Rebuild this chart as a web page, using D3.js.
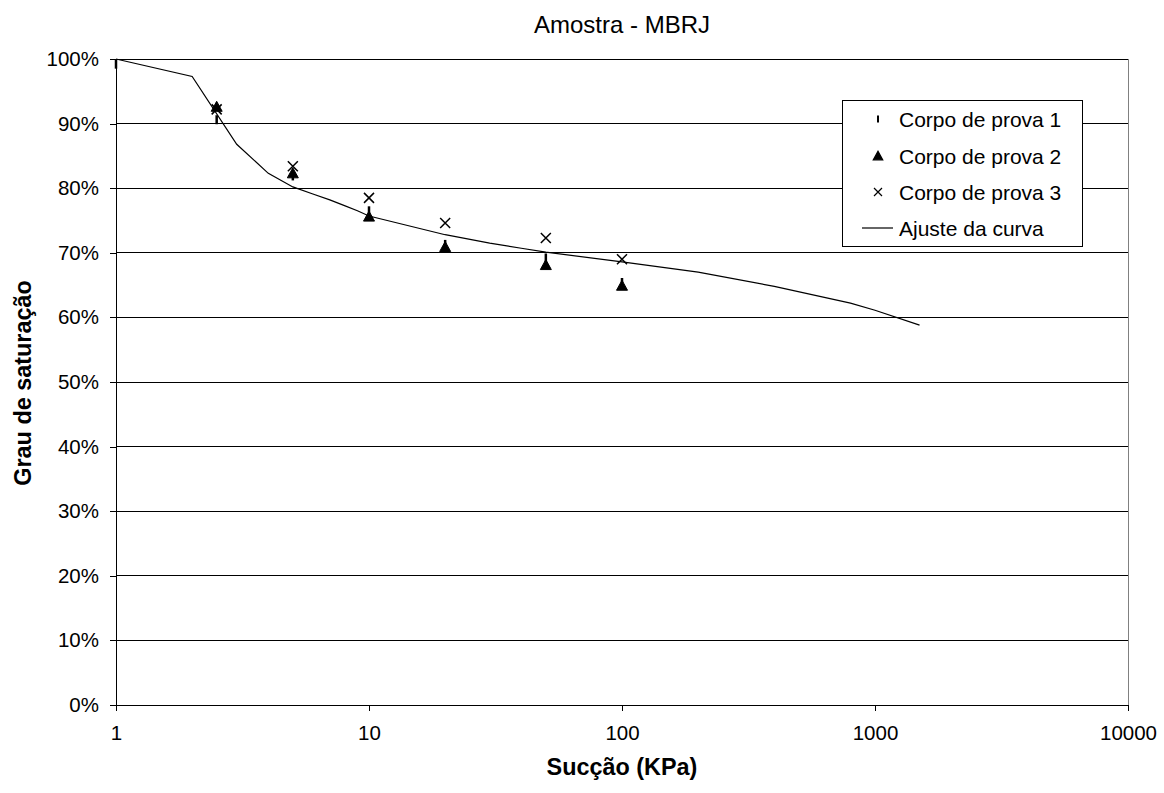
<!DOCTYPE html>
<html>
<head>
<meta charset="utf-8">
<script src="https://cdn.jsdelivr.net/npm/d3@7"></script>
<style>
  html, body { margin: 0; padding: 0; background: #fff; }
  svg { display: block; font-family: Arial, "Liberation Sans", sans-serif; }
</style>
</head>
<body>
<svg id="chart" width="1164" height="793"></svg>
<script>
// Suction (kPa) and degree of saturation for each specimen
const suction1 = [1, 2.5, 5, 10, 20, 50, 100];
const sat1 = [0.992, 0.906, 0.819, 0.765, 0.713, 0.692, 0.654];

const suction2 = [2.5, 5, 10, 20, 50, 100];
const sat2 = [0.926, 0.823, 0.756, 0.709, 0.681, 0.649];

const suction3 = [2.5, 5, 10, 20, 50, 100];
const sat3 = [0.922, 0.834, 0.785, 0.746, 0.723, 0.690];

// Fitted retention curve
const fitSuction = [1, 2, 3, 4, 5, 6, 7, 8, 9, 10, 20, 30, 40, 50, 100, 200, 400, 800, 1000, 1500];
const fitSat = [1.000, 0.973, 0.868, 0.823, 0.802, 0.791, 0.782, 0.773, 0.765, 0.757, 0.728, 0.715, 0.707, 0.701, 0.686, 0.670, 0.648, 0.622, 0.611, 0.588];

const xTicks = [1, 10, 100, 1000, 10000];
const yTicks = [0, 0.1, 0.2, 0.3, 0.4, 0.5, 0.6, 0.7, 0.8, 0.9, 1.0];

const legendLabels = ["Corpo de prova 1", "Corpo de prova 2", "Corpo de prova 3", "Ajuste da curva"];

const svg = d3.select("#chart");
const plotLeft = 116, plotRight = 1128, plotTop = 59, plotBottom = 705;

const x = d3.scaleLog().domain([1, 10000]).range([plotLeft, plotRight]);
const y = d3.scaleLinear().domain([0, 1]).range([plotBottom, plotTop]);

// Horizontal gridlines
svg.append("g")
  .selectAll("line")
  .data(yTicks)
  .join("line")
  .attr("x1", plotLeft).attr("x2", plotRight)
  .attr("y1", d => y(d)).attr("y2", d => y(d))
  .attr("stroke", "#000").attr("stroke-width", 1)
  .attr("shape-rendering", "crispEdges");

// Right border of the plot area
svg.append("line")
  .attr("x1", plotRight).attr("x2", plotRight)
  .attr("y1", plotTop).attr("y2", plotBottom)
  .attr("stroke", "#808080").attr("shape-rendering", "crispEdges");

// Axes
const xAxis = d3.axisBottom(x).tickValues(xTicks).tickFormat(d3.format("d"))
  .tickSizeInner(6).tickSizeOuter(0).tickPadding(14);
const gx = svg.append("g").attr("transform", `translate(0,${plotBottom})`).call(xAxis);
gx.select(".domain").attr("stroke", "#000").attr("shape-rendering", "crispEdges");
gx.selectAll(".tick line").attr("stroke", "#000").attr("shape-rendering", "crispEdges");
gx.selectAll(".tick text").attr("font-size", "20.5px").attr("font-family", "Arial, 'Liberation Sans', sans-serif").attr("fill", "#000");

const yAxis = d3.axisLeft(y).tickValues(yTicks).tickFormat(d3.format(".0%"))
  .tickSizeInner(6).tickSizeOuter(0).tickPadding(11);
const gy = svg.append("g").attr("transform", `translate(${plotLeft},0)`).call(yAxis);
gy.select(".domain").attr("stroke", "#000").attr("shape-rendering", "crispEdges");
gy.selectAll(".tick line").attr("stroke", "#000").attr("shape-rendering", "crispEdges");
gy.selectAll(".tick text").attr("font-size", "20.5px").attr("font-family", "Arial, 'Liberation Sans', sans-serif").attr("fill", "#000");

// Fitted curve
const line = d3.line().x(d => x(d[0])).y(d => y(d[1]));
svg.append("path")
  .datum(fitSuction.map((s, i) => [s, fitSat[i]]))
  .attr("d", line)
  .attr("fill", "none").attr("stroke", "#000").attr("stroke-width", 1.2);

// Marker shapes
const dashPath = "M0,-4.5L0,4.5";
const triPath = "M0,-5.5L5.5,4.5L-5.5,4.5Z";
const crossPath = "M-5,-5L5,5M-5,5L5,-5";

function drawMarkers(xs, ys, path, filled) {
  const g = svg.append("g");
  g.selectAll("path")
    .data(xs.map((s, i) => [s, ys[i]]))
    .join("path")
    .attr("transform", d => `translate(${x(d[0])},${y(d[1])})`)
    .attr("d", path)
    .attr("fill", filled ? "#000" : "none")
    .attr("stroke", "#000")
    .attr("stroke-width", filled ? 1 : (path === dashPath ? 2.5 : 1.5));
}
drawMarkers(suction1, sat1, dashPath, false);
drawMarkers(suction2, sat2, triPath, true);
drawMarkers(suction3, sat3, crossPath, false);

// Legend
const lg = svg.append("g").attr("transform", "translate(842,100)");
lg.append("rect").attr("x", 0.5).attr("y", 0.5).attr("width", 240).attr("height", 146)
  .attr("fill", "#fff").attr("stroke", "#000").attr("shape-rendering", "crispEdges");
const rowsY = [19, 56, 92, 128];
const markerPaths = [dashPath, triPath, crossPath];
legendLabels.forEach((label, i) => {
  const ry = rowsY[i];
  if (i < 3) {
    lg.append("path")
      .attr("transform", `translate(36,${ry}) scale(${i === 1 ? 0.85 : 0.8})`)
      .attr("d", markerPaths[i])
      .attr("fill", i === 1 ? "#000" : "none")
      .attr("stroke", "#000")
      .attr("stroke-width", i === 0 ? 2.5 : 1.5);
  } else {
    lg.append("line").attr("x1", 20).attr("x2", 51).attr("y1", ry).attr("y2", ry)
      .attr("stroke", "#000").attr("stroke-width", 1.2);
  }
  lg.append("text").attr("x", 57).attr("y", ry).attr("dy", "0.36em")
    .attr("font-size", "21px").attr("fill", "#000").text(label);
});

// Titles
svg.append("text").attr("x", 622).attr("y", 33).attr("text-anchor", "middle")
  .attr("font-size", "24px").attr("fill", "#000").text("Amostra - MBRJ");
svg.append("text").attr("x", 622).attr("y", 775).attr("text-anchor", "middle")
  .attr("font-size", "23.4px").attr("font-weight", "bold").attr("fill", "#000").text("Sucção (KPa)");
svg.append("text").attr("transform", "translate(31,383) rotate(-90)").attr("text-anchor", "middle")
  .attr("font-size", "23.4px").attr("font-weight", "bold").attr("fill", "#000").text("Grau de saturação");
</script>
</body>
</html>
